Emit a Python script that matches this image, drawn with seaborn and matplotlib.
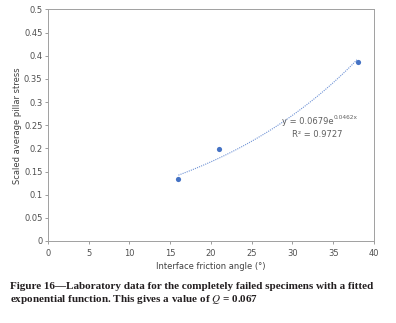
import numpy as np
import pandas as pd
import matplotlib
matplotlib.use('Agg')
import matplotlib.pyplot as plt
import seaborn as sns

# Datos
friction_angle = [16, 21, 38]
pillar_stress = [0.134, 0.198, 0.386]
x_ticks = [0, 5, 10, 15, 20, 25, 30, 35, 40]
y_ticks = [0, 0.05, 0.1, 0.15, 0.2, 0.25, 0.3, 0.35, 0.4, 0.45, 0.5]
y_tick_labels = ['0', '0.05', '0.1', '0.15', '0.2', '0.25', '0.3', '0.35', '0.4', '0.45', '0.5']

# Coeficientes del ajuste exponencial (de la etiqueta)
fit_a = 0.0679
fit_b = 0.0462
fit_r2 = 0.9727

df = pd.DataFrame({'angle': friction_angle, 'stress': pillar_stress})

sns.set_theme(style='white')
plt.rcParams['font.family'] = ['DejaVu Sans']
plt.rcParams['mathtext.fontset'] = 'stix'

fig = plt.figure(figsize=(3.96, 3.23), dpi=100)
ax = fig.add_axes([0.1212, 0.2539, 0.8232, 0.7167])

blue = '#4472C4'
grey = '#8c8c8c'

# Linea de tendencia
xs = np.linspace(min(friction_angle), max(friction_angle), 100)
ax.plot(xs, fit_a * np.exp(fit_b * xs), color='#6f93d6', lw=0.8, ls=(0, (1, 1)))

sns.scatterplot(data=df, x='angle', y='stress', ax=ax, color=blue, s=14,
                edgecolor=blue, linewidth=0, zorder=3)

ax.set_xlim(0, 40)
ax.set_ylim(0, 0.5)
ax.set_xticks(x_ticks)
ax.set_xticklabels([str(t) for t in x_ticks])
ax.set_yticks(y_ticks)
ax.set_yticklabels(y_tick_labels)
ax.tick_params(axis='both', labelsize=6, colors=grey, labelcolor='#505050',
               length=2.5, width=0.6, direction='out', pad=2.5)
ax.tick_params(axis='x', bottom=True, pad=3)
ax.tick_params(axis='y', left=True, pad=1.5)
for sp in ax.spines.values():
    sp.set_color('#a0a0a0')
    sp.set_linewidth(0.7)

ax.set_xlabel('Interface friction angle (°)', fontsize=6, color='#404040', labelpad=3)
ax.set_ylabel('Scaled average pillar stress', fontsize=6, color='#404040', labelpad=1.5)

ax.text(35.0, 0.259, 'y = %.4fe' % fit_a, fontsize=6, color='#606060', ha='right', va='center')
ax.annotate('%.4fx' % fit_b, xy=(35.0, 0.259), xytext=(0.3, 2.5), textcoords='offset points',
            fontsize=4.2, color='#606060', ha='left', va='center')
ax.text(33.0, 0.231, 'R² = %.4f' % fit_r2, fontsize=6,
        color='#606060', ha='center', va='center')

fig.text(0.026, 0.090, 'Figure 16—Laboratory data for the completely failed specimens with a fitted\n'
         'exponential function. This gives a value of $\\mathit{Q}$ = 0.067',
         fontsize=8.0, fontweight='bold', family=['Liberation Serif', 'DejaVu Serif'],
         color='#231f20', va='center', ha='left', linespacing=1.15)

fig.savefig('out.png', dpi=100)
